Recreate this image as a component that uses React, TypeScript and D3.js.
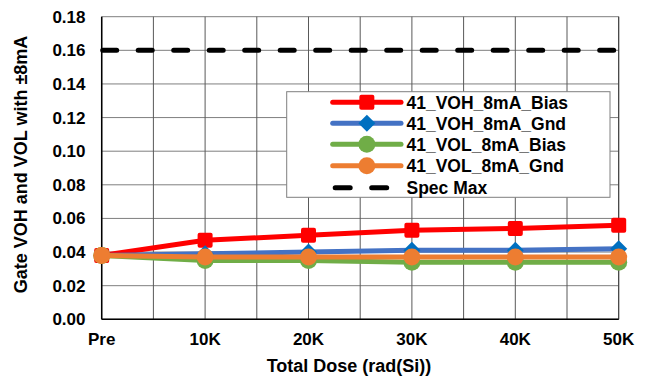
import React from 'react';
import * as d3 from 'd3';

const categories = ['Pre', '10K', '20K', '30K', '40K', '50K'];
const vohBias = [0.038, 0.047, 0.050, 0.053, 0.054, 0.056];
const vohGnd = [0.038, 0.039, 0.040, 0.041, 0.041, 0.042];
const volBias = [0.038, 0.035, 0.035, 0.034, 0.034, 0.034];
const volGnd = [0.038, 0.037, 0.037, 0.037, 0.037, 0.037];
const specMax = 0.16;
const yTicks = [0, 0.02, 0.04, 0.06, 0.08, 0.1, 0.12, 0.14, 0.16, 0.18];

const series = [
  { name: '41_VOH_8mA_Bias', values: vohBias, line: '#FF0000', fill: '#FF0000', marker: 'square' },
  { name: '41_VOH_8mA_Gnd', values: vohGnd, line: '#4472C4', fill: '#0070C0', marker: 'diamond' },
  { name: '41_VOL_8mA_Bias', values: volBias, line: '#70AD47', fill: '#70AD47', marker: 'circle' },
  { name: '41_VOL_8mA_Gnd', values: volGnd, line: '#ED7D31', fill: '#ED7D31', marker: 'circle' },
];

const W = 649;
const H = 385;
const left = 101.7;
const right = 618.7;
const top = 16.7;
const bottom = 319.3;
const font = 'Liberation Sans, Arial, sans-serif';

// marker shape at (x, y)
const Marker = ({ kind, x, y, color }) => {
  if (kind === 'square') {
    return <rect x={x - 7.5} y={y - 7.5} width={15} height={15} rx={2} fill={color} />;
  }
  if (kind === 'diamond') {
    const r = 8.5;
    return <path d={`M${x},${y - r}L${x + r},${y}L${x},${y + r}L${x - r},${y}Z`} fill={color} />;
  }
  return <circle cx={x} cy={y} r={8.5} fill={color} />;
};

export default function App() {
  const x = d3.scalePoint().domain(categories).range([left, right]);
  const xi = d3.scaleLinear().domain([0, categories.length - 1]).range([left, right]);
  const y = d3.scaleLinear().domain([0, 0.18]).range([bottom, top]);
  const line = d3
    .line<number>()
    .x((d, i) => x(categories[i]) as number)
    .y((d) => y(d));

  const vGrid = d3.range(0, categories.length - 0.5, 0.5).map((i) => xi(i));

  // legend layout
  const lgX = 286.7;
  const lgY = 91.7;
  const lgW = 323.3;
  const lgH = 105.6;
  const rowY = [102.3, 123.3, 144.3, 165.7, 187.7];
  const lineX0 = 332.7;
  const lineX1 = 401;
  const textX = 406.5;

  return (
    <svg width={W} height={H} style={{ position: 'absolute', left: 0, top: 0, background: '#fff' }}>
      {/* grid */}
      {yTicks.map((t) => (
        <line key={'h' + t} x1={left} x2={right} y1={y(t)} y2={y(t)} stroke="#7f7f7f" strokeWidth={1} />
      ))}
      {vGrid.map((gx, i) => (
        <line key={'v' + i} x1={gx} x2={gx} y1={top} y2={bottom} stroke="#595959" strokeWidth={1} />
      ))}
      <line x1={right} x2={right} y1={top} y2={bottom} stroke="#404040" strokeWidth={1} />
      <line x1={left} x2={left} y1={top} y2={bottom} stroke="#000" strokeWidth={1.5} />
      <line x1={left} x2={right} y1={bottom} y2={bottom} stroke="#000" strokeWidth={1.5} />

      {/* spec max */}
      <line
        x1={left + 1}
        x2={right}
        y1={y(specMax)}
        y2={y(specMax)}
        stroke="#000"
        strokeWidth={5}
        strokeDasharray="14 21.5"
        strokeLinecap="round"
      />

      {/* series */}
      {series.map((s) => (
        <g key={s.name}>
          <path d={line(s.values) || ''} fill="none" stroke={s.line} strokeWidth={5} strokeLinejoin="round" />
          {s.values.map((v, i) => (
            <Marker key={i} kind={s.marker} x={x(categories[i]) as number} y={y(v)} color={s.fill} />
          ))}
        </g>
      ))}

      {/* y ticks */}
      {yTicks.map((t) => (
        <text
          key={'yt' + t}
          x={85.5}
          y={y(t) + 6}
          textAnchor="end"
          fontFamily={font}
          fontWeight="bold"
          fontSize={17}
          fill="#000"
        >
          {t.toFixed(2)}
        </text>
      ))}
      {/* x ticks */}
      {categories.map((c) => (
        <text
          key={'xt' + c}
          x={x(c) as number}
          y={345}
          textAnchor="middle"
          fontFamily={font}
          fontWeight="bold"
          fontSize={17}
          fill="#000"
        >
          {c}
        </text>
      ))}
      <text x={349} y={372} textAnchor="middle" fontFamily={font} fontWeight="bold" fontSize={18} fill="#000">
        Total Dose (rad(Si))
      </text>
      <text
        transform={`translate(27,164.5) rotate(-90)`}
        textAnchor="middle"
        fontFamily={font}
        fontWeight="bold"
        fontSize={18}
        fill="#000"
      >
        Gate VOH and VOL with ±8mA
      </text>

      {/* legend */}
      <rect x={lgX} y={lgY} width={lgW} height={lgH} fill="#fff" stroke="#7f7f7f" strokeWidth={1} />
      {series.map((s, i) => (
        <g key={'lg' + s.name}>
          <line x1={lineX0} x2={lineX1} y1={rowY[i]} y2={rowY[i]} stroke={s.line} strokeWidth={5} strokeLinecap="round" />
          <Marker kind={s.marker} x={(lineX0 + lineX1) / 2} y={rowY[i]} color={s.fill} />
          <text x={textX} y={rowY[i] + 6.5} fontFamily={font} fontWeight="bold" fontSize={17.5} fill="#000">
            {s.name}
          </text>
        </g>
      ))}
      <line
        x1={lineX0 + 2.5}
        x2={lineX1}
        y1={rowY[4]}
        y2={rowY[4]}
        stroke="#000"
        strokeWidth={5}
        strokeDasharray="15 21.5"
        strokeLinecap="round"
      />
      <text x={textX} y={rowY[4] + 6.5} fontFamily={font} fontWeight="bold" fontSize={17.5} fill="#000">
        Spec Max
      </text>
    </svg>
  );
}
